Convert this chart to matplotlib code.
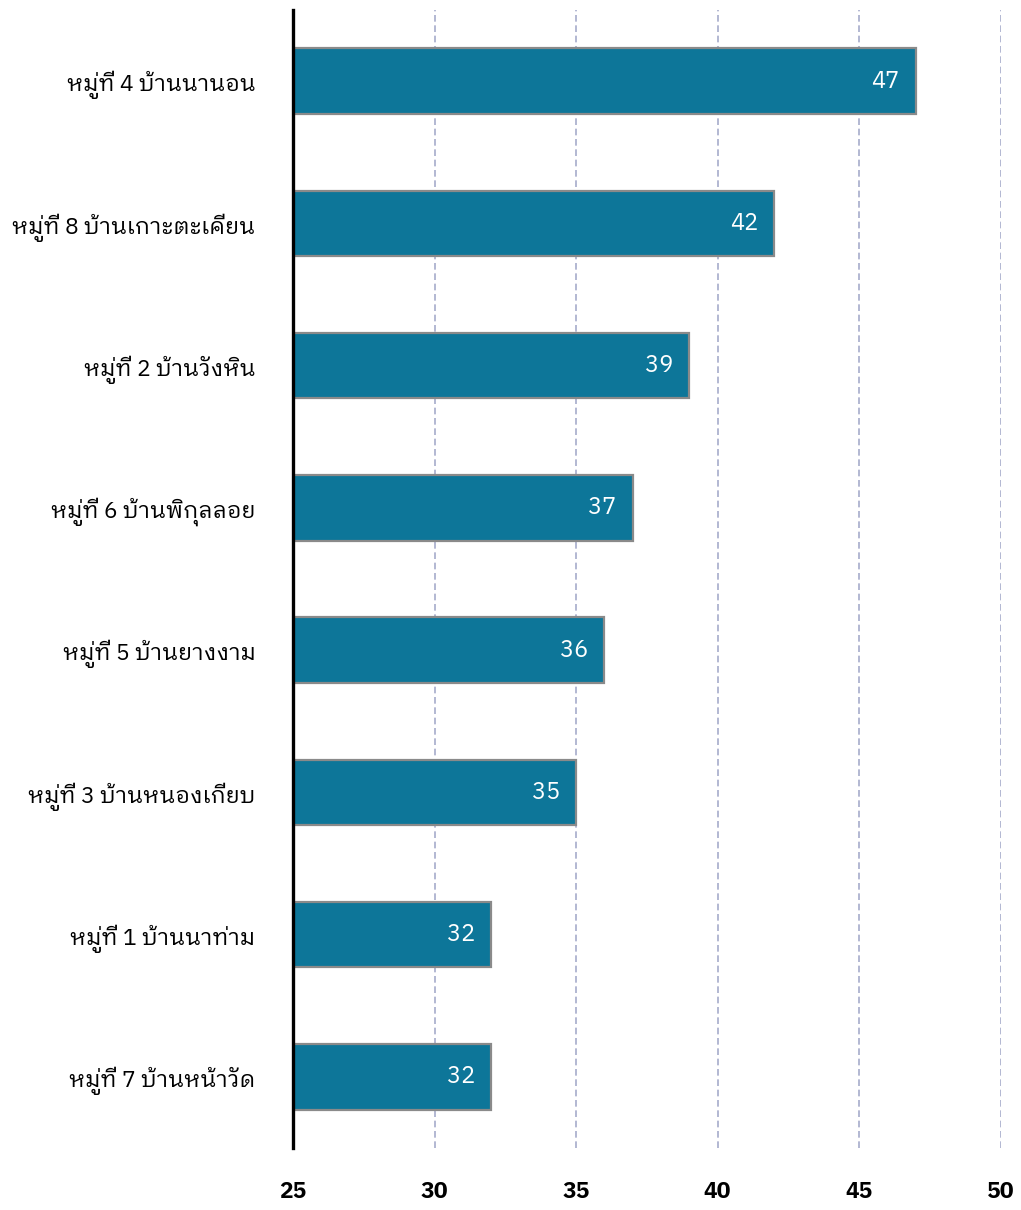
import matplotlib
matplotlib.use('Agg')
import matplotlib.pyplot as plt

plt.rcParams['font.family'] = ['IBM Plex Sans Thai Looped', 'Noto Sans', 'DejaVu Sans']

villages = ['หมู่ที่ 4 บ้านนานอน', 'หมู่ที่ 8 บ้านเกาะตะเคียน', 'หมู่ที่ 2 บ้านวังหิน',
            'หมู่ที่ 6 บ้านพิกุลลอย', 'หมู่ที่ 5 บ้านยางงาม', 'หมู่ที่ 3 บ้านหนองเกียบ',
            'หมู่ที่ 1 บ้านนาท่าม', 'หมู่ที่ 7 บ้านหน้าวัด']
counts = [47, 42, 39, 37, 36, 35, 32, 32]
xticks = [25, 30, 35, 40, 45, 50]

fig = plt.figure(figsize=(10.21, 12.10), dpi=100)
ax = fig.add_axes([0.287, 0.0512, 0.693, 0.9405])

ypos = list(range(len(villages)))
bars = ax.barh(ypos, [c - 25 for c in counts], left=25, height=0.46,
               color='#0d7699', edgecolor='#8a8a8a', linewidth=1.6, zorder=3)

for y, c in zip(ypos, counts):
    ax.annotate(str(c), (c, y), xytext=(-16, 0), textcoords='offset pixels',
                ha='right', va='center', color='white', fontsize=17, zorder=4)

ax.set_xlim(25, 50)
ax.set_ylim(len(villages) - 0.5, -0.5)
ax.set_yticks(ypos)
ax.set_yticklabels(villages, fontsize=16.5)
ax.set_xticks(xticks)
ax.set_xticklabels([str(t) for t in xticks], fontsize=16.5, fontweight='bold')
ax.tick_params(axis='both', length=0)
ax.tick_params(axis='y', pad=27)
ax.tick_params(axis='x', pad=24)

# dashed vertical gridlines behind the bars
ax.grid(axis='x', color='#a6abcb', linestyle=(0, (4, 2.2)), linewidth=1.2, zorder=0)
ax.grid(axis='y', visible=False)
for s in ['top', 'right', 'bottom']:
    ax.spines[s].set_visible(False)
ax.spines['left'].set_linewidth(2.4)
ax.spines['left'].set_color('black')
ax.spines['left'].set_zorder(5)

fig.savefig('out.png', dpi=100)
